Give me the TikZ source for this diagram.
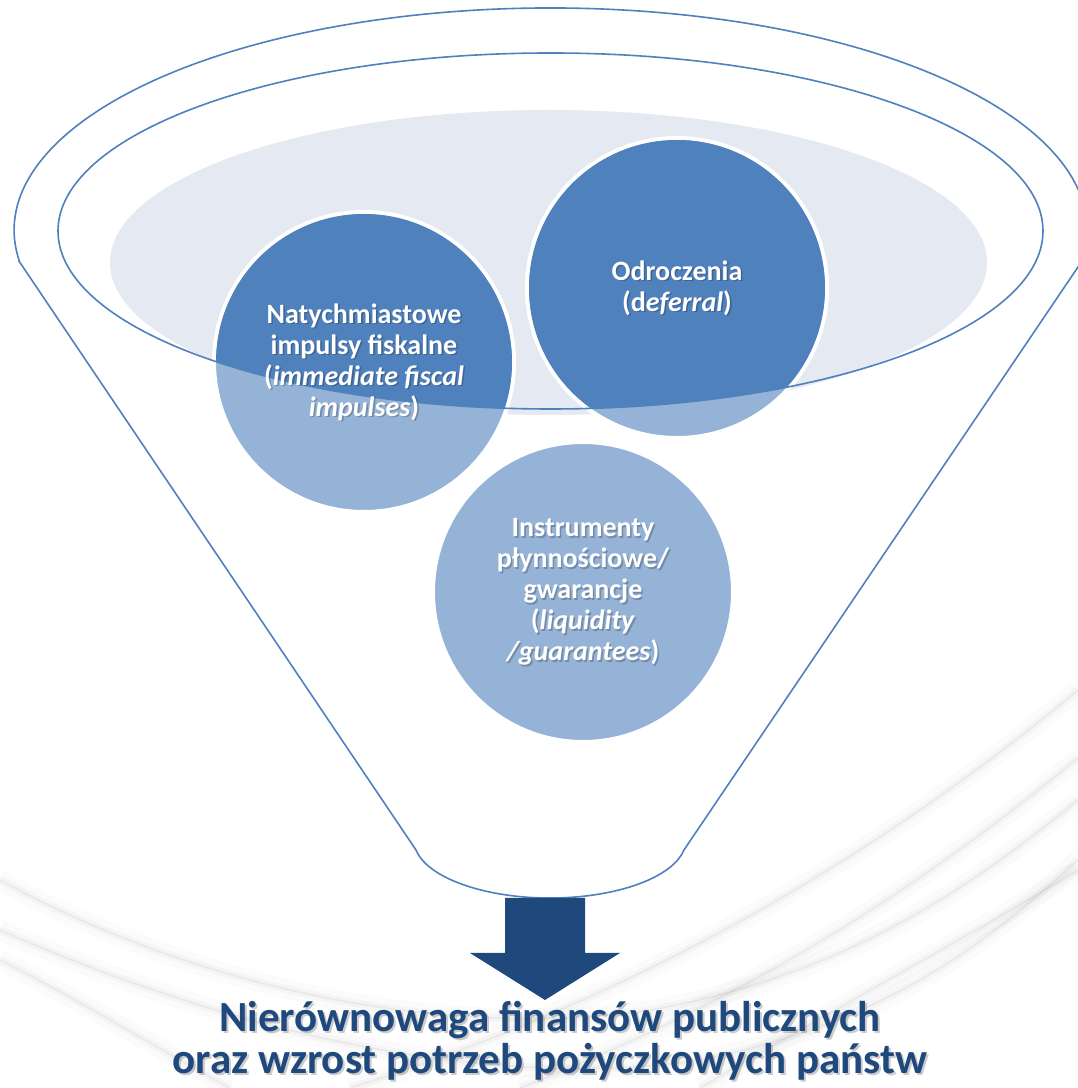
\documentclass[tikz,border=0pt]{standalone}
\usepackage{fontspec}
\setmainfont{Carlito}
\definecolor{funnelblue}{HTML}{4F81BD}
\definecolor{bubblelight}{HTML}{95B3D7}
\definecolor{rimfill}{HTML}{E4E9F2}
\definecolor{navy}{HTML}{1F497D}

\begin{document}
\begin{tikzpicture}[x=1pt,y=1pt,
  outline/.style={draw=funnelblue, line width=1.6pt},
  bubble/.style={circle, minimum size=300pt, inner sep=0pt, fill=bubblelight, draw=white, line width=4pt},
  bubbletext/.style={text=white, font=\fontsize{28}{31}\selectfont\bfseries, align=center},
  bubbleshadow/.style={bubbletext, text=black, opacity=0.22},
  resulttext/.style={text=navy, font=\fontsize{43}{42}\selectfont\bfseries, align=center},
  resultshadow/.style={resulttext, text=black, opacity=0.2},
  swoosh/.style={draw=black, line cap=round, opacity=0.045, line width=2pt,
    preaction={draw=black, opacity=0.025, line width=8pt},
    preaction={draw=black, opacity=0.015, line width=20pt}}
]
\useasboundingbox (0,0) rectangle (1078,1088);
\fill[white] (0,0) rectangle (1078,1088);

% soft grey swooshes in the background
\draw[swoosh] (0,208) .. controls (200,98) and (450,48) .. (650,78) .. controls (850,113) and (980,208) .. (1078,288);
\draw[swoosh] (0,158) .. controls (250,48) and (500,-2) .. (700,28) .. controls (900,68) and (1000,158) .. (1078,228);
\draw[swoosh] (350,0) .. controls (600,78) and (850,208) .. (1078,398);
\draw[swoosh] (700,0) .. controls (850,88) and (980,158) .. (1078,218);
\draw[swoosh] (0,128) .. controls (80,88) and (160,38) .. (230,0);
\draw[swoosh] (520,0) .. controls (750,90) and (920,200) .. (1078,330);

% funnel body
\coordinate (tl) at (19.6,826);
\coordinate (bl) at (416,238);
\coordinate (br) at (684,238);
\coordinate (tr) at (1081.4,826);
\draw[outline, fill=white] (tl) -- (bl)
  arc[start angle=189.9, end angle=350.1, x radius=136pt, y radius=58pt]
  -- (tr)
  arc[start angle=-8.3, end angle=188.3, x radius=536.5pt, y radius=222pt] -- cycle;

% inner surface of the rim
\fill[rimfill] (548.5,825.5) ellipse [x radius=438.5pt, y radius=152.5pt];

% the three bubbles
\node[bubble] (imp) at (364,726) {};
\node[bubble] (def) at (677,800) {};
\node[bubble] (liq) at (583,496) {};

% the part of each bubble inside the rim is darker
\begin{scope}
  \clip (550.5,857) ellipse [x radius=492.5pt, y radius=178pt];
  \fill[funnelblue] (imp.center) circle[radius=148pt];
  \fill[funnelblue] (def.center) circle[radius=148pt];
  \fill[funnelblue] (liq.center) circle[radius=148pt];
\end{scope}

% rim line
\draw[outline] (550.5,857) ellipse [x radius=492.5pt, y radius=178pt];

% bubble labels
\node[bubbleshadow] at ([shift={(1.6,-1.6)}]imp.center) {Natychmiastowe\\impulsy fiskalne\\(\textit{immediate fiscal}\\\textit{impulses})};
\node[bubbletext] (imptext) at (imp.center) {Natychmiastowe\\impulsy fiskalne\\(\textit{immediate fiscal}\\\textit{impulses})};
\node[bubbleshadow] at ([shift={(1.6,-1.6)}]def.center) {Odroczenia\\(d\textit{eferral})};
\node[bubbletext] (deftext) at (def.center) {Odroczenia\\(d\textit{eferral})};
\node[bubbleshadow] at ([shift={(1.6,-1.6)}]liq.center) {Instrumenty\\płynnościowe/\\gwarancje\\(\textit{liquidity}\\\textit{/guarantees})};
\node[bubbletext] (liqtext) at (liq.center) {Instrumenty\\płynnościowe/\\gwarancje\\(\textit{liquidity}\\\textit{/guarantees})};

% outcome
\coordinate (neck) at (545,190);
\coordinate (tip) at (545,88);
\fill[navy] ([xshift=-40]neck) -- ([xshift=40]neck) -- ([xshift=40]neck |- 0,135)
  -- ([xshift=75]neck |- 0,135) -- (tip) -- ([xshift=-75]neck |- 0,135)
  -- ([xshift=-40]neck |- 0,135) -- cycle;

\node[resultshadow] at (552,45) {Nierównowaga finansów publicznych\\oraz wzrost potrzeb pożyczkowych państw};
\node[resulttext] (result) at (550,47) {Nierównowaga finansów publicznych\\oraz wzrost potrzeb pożyczkowych państw};
\end{tikzpicture}
\end{document}
